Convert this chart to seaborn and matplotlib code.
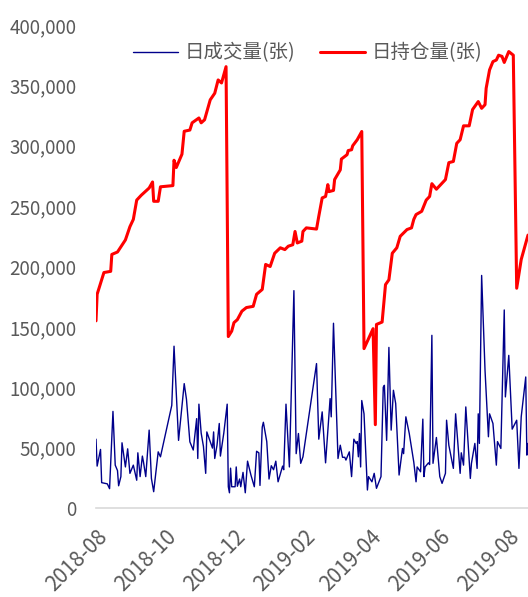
import pandas as pd
import matplotlib
matplotlib.use("Agg")
import matplotlib.pyplot as plt
import matplotlib.dates as mdates
from matplotlib.ticker import FuncFormatter
import seaborn as sns

# daily volume (contracts)
vol_dates = [
    "2018-08-01", "2018-08-02", "2018-08-05", "2018-08-06", "2018-08-11", "2018-08-13", "2018-08-16",
    "2018-08-18", "2018-08-20", "2018-08-21", "2018-08-23", "2018-08-24", "2018-08-27", "2018-08-29",
    "2018-08-31", "2018-09-03", "2018-09-06", "2018-09-07", "2018-09-09", "2018-09-11", "2018-09-12",
    "2018-09-14", "2018-09-17", "2018-09-19", "2018-09-21", "2018-09-25", "2018-09-27", "2018-10-07",
    "2018-10-09", "2018-10-11", "2018-10-13", "2018-10-18", "2018-10-20", "2018-10-23", "2018-10-26",
    "2018-10-29", "2018-10-30", "2018-10-31", "2018-11-02", "2018-11-04", "2018-11-06", "2018-11-07",
    "2018-11-10", "2018-11-12", "2018-11-13", "2018-11-14", "2018-11-16", "2018-11-18", "2018-11-19",
    "2018-11-22", "2018-11-25", "2018-11-26", "2018-11-27", "2018-11-28", "2018-11-29", "2018-12-02",
    "2018-12-03", "2018-12-04", "2018-12-06", "2018-12-07", "2018-12-09", "2018-12-11", "2018-12-13",
    "2018-12-16", "2018-12-19", "2018-12-21", "2018-12-23", "2018-12-24", "2018-12-26", "2018-12-27",
    "2018-12-30", "2019-01-01", "2019-01-03", "2019-01-05", "2019-01-07", "2019-01-09", "2019-01-12",
    "2019-01-13", "2019-01-14", "2019-01-16", "2019-01-19", "2019-01-23", "2019-01-25", "2019-01-27",
    "2019-01-29", "2019-01-31", "2019-02-12", "2019-02-14", "2019-02-17", "2019-02-20", "2019-02-24",
    "2019-02-25", "2019-02-27", "2019-03-03", "2019-03-05", "2019-03-07", "2019-03-09", "2019-03-10",
    "2019-03-13", "2019-03-15", "2019-03-17", "2019-03-19", "2019-03-20", "2019-03-21", "2019-03-22",
    "2019-03-23", "2019-03-24", "2019-03-26", "2019-03-29", "2019-03-30", "2019-04-02", "2019-04-04",
    "2019-04-06", "2019-04-10", "2019-04-12", "2019-04-13", "2019-04-15", "2019-04-17", "2019-04-19",
    "2019-04-21", "2019-04-23", "2019-04-26", "2019-04-29", "2019-04-30", "2019-05-02", "2019-05-05",
    "2019-05-09", "2019-05-11", "2019-05-12", "2019-05-15", "2019-05-17", "2019-05-18", "2019-05-19",
    "2019-05-22", "2019-05-23", "2019-05-25", "2019-05-26", "2019-05-29", "2019-06-01", "2019-06-03",
    "2019-06-06", "2019-06-07", "2019-06-09", "2019-06-13", "2019-06-15", "2019-06-19", "2019-06-20",
    "2019-06-22", "2019-06-24", "2019-06-28", "2019-06-29", "2019-07-02", "2019-07-04", "2019-07-05",
    "2019-07-06", "2019-07-08", "2019-07-11", "2019-07-14", "2019-07-15", "2019-07-18", "2019-07-21",
    "2019-07-22", "2019-07-25", "2019-07-28", "2019-07-29", "2019-08-01", "2019-08-04", "2019-08-08",
    "2019-08-10", "2019-08-12", "2019-08-16", "2019-08-17", "2019-08-18",
]
vol_values = [
    57000, 34700, 48500, 21000, 20000, 16000, 80000,
    35500, 31000, 18400, 26000, 54000, 34000, 49000,
    28700, 35500, 23000, 45700, 26000, 43000, 38000,
    26000, 64500, 24500, 13500, 46500, 42400, 85000,
    134000, 94800, 56000, 103000, 90000, 54800, 48000,
    74000, 41000, 86000, 62000, 51000, 28700, 63000,
    55000, 49600, 63000, 41000, 52000, 70000, 43000,
    62000, 86000, 17600, 12600, 33000, 17600, 17600,
    34000, 18000, 24000, 17600, 29500, 12600, 38800,
    27300, 17600, 47000, 45700, 18700, 67000, 71000,
    55000, 24000, 35000, 31700, 38800, 21700, 31700,
    34700, 31700, 86000, 34000, 180000, 45000, 61700,
    37000, 42400, 119600, 57000, 79600, 37400, 90600,
    75500, 153000, 41000, 52000, 42000, 42000, 39700,
    46500, 26000, 57000, 53500, 55000, 42400, 61700,
    34000, 89000, 78000, 14900, 26000, 21700, 28700,
    16300, 26000, 100000, 101600, 56000, 133000, 64500,
    97500, 86500, 27300, 49300, 45000, 75500, 61700,
    38000, 21700, 34000, 30000, 73600, 26000, 34000,
    37400, 36000, 143000, 37000, 58400, 26000, 20400,
    28700, 72700, 52000, 32800, 78000, 28700, 45700,
    35500, 83700, 24500, 37000, 53500, 32800, 78000,
    53500, 192600, 114000, 59000, 78000, 70000, 35500,
    55000, 49300, 164000, 92000, 126400, 65300, 72700,
    32800, 75500, 108500, 43800, 53500,
]

# daily open interest (contracts)
oi_dates = [
    "2018-08-01", "2018-08-02", "2018-08-05", "2018-08-08", "2018-08-14", "2018-08-15", "2018-08-20", "2018-08-27",
    "2018-08-31", "2018-09-03", "2018-09-06", "2018-09-10", "2018-09-17", "2018-09-20", "2018-09-21",
    "2018-09-25", "2018-09-27", "2018-10-08", "2018-10-09", "2018-10-11", "2018-10-16", "2018-10-18",
    "2018-10-23", "2018-10-25", "2018-10-31", "2018-11-02", "2018-11-05", "2018-11-10", "2018-11-14",
    "2018-11-17", "2018-11-20", "2018-11-24", "2018-11-26", "2018-11-29", "2018-12-01", "2018-12-04",
    "2018-12-08", "2018-12-12", "2018-12-18", "2018-12-21", "2018-12-26", "2018-12-29", "2019-01-02",
    "2019-01-06", "2019-01-11", "2019-01-15", "2019-01-18", "2019-01-22", "2019-01-24", "2019-01-26",
    "2019-01-30", "2019-01-31", "2019-02-03", "2019-02-12", "2019-02-14", "2019-02-17", "2019-02-20",
    "2019-02-22", "2019-02-23", "2019-02-27", "2019-02-28", "2019-03-05", "2019-03-06", "2019-03-11",
    "2019-03-12", "2019-03-15", "2019-03-16", "2019-03-20", "2019-03-24", "2019-03-26", "2019-04-03",
    "2019-04-05", "2019-04-06", "2019-04-11", "2019-04-14", "2019-04-17", "2019-04-20", "2019-04-24",
    "2019-04-27", "2019-05-03", "2019-05-07", "2019-05-09", "2019-05-11", "2019-05-16", "2019-05-20",
    "2019-05-23", "2019-05-25", "2019-05-29", "2019-06-03", "2019-06-06", "2019-06-09", "2019-06-13",
    "2019-06-16", "2019-06-19", "2019-06-22", "2019-06-27", "2019-06-30", "2019-07-05", "2019-07-08",
    "2019-07-11", "2019-07-12", "2019-07-15", "2019-07-18", "2019-07-21", "2019-07-23", "2019-07-26",
    "2019-07-28", "2019-08-01", "2019-08-05", "2019-08-08", "2019-08-12", "2019-08-18",
]
oi_values = [
    155000, 177000, 186000, 195000, 196000, 210000, 212000, 222000,
    233000, 239000, 255000, 259000, 265000, 270000, 254000,
    254000, 266000, 267000, 288000, 282000, 293000, 312000,
    313000, 319000, 323000, 319000, 321500, 338000, 343500,
    354500, 352000, 365500, 142000, 146500, 153500, 156000,
    163000, 166000, 167000, 177000, 181000, 201700, 200000,
    211000, 215500, 214000, 216800, 218000, 229000, 219500,
    221000, 229000, 232000, 231000, 241600, 256800, 258000,
    267800, 262000, 263000, 272000, 280000, 289000, 292600,
    296000, 296700, 300000, 305000, 311800, 132000, 148500,
    69000, 152000, 154000, 185000, 189000, 211000, 215500,
    225000, 230600, 232000, 239000, 243000, 245700, 255000,
    258000, 268600, 264000, 269000, 272000, 286000, 287000,
    302000, 305000, 316500, 316500, 330000, 336600, 331000,
    334000, 347600, 362800, 369700, 371000, 375000, 374000,
    369000, 378000, 375000, 182000, 205800, 226000,
]

vol = pd.DataFrame({"date": pd.to_datetime(vol_dates), "value": vol_values})
oi = pd.DataFrame({"date": pd.to_datetime(oi_dates), "value": oi_values})

sns.set_style("white")
plt.rcParams["font.family"] = ["Noto Sans CJK SC", "DejaVu Sans"]

fig = plt.figure(figsize=(5.28, 5.97), dpi=100)
ax = fig.add_axes([96 / 528, 89 / 597, 432 / 528, 483 / 597])

sns.lineplot(data=vol, x="date", y="value", ax=ax, color="#00008B", linewidth=1.0, label="日成交量(张)")
sns.lineplot(data=oi, x="date", y="value", ax=ax, color="#FF0000", linewidth=2.2, label="日持仓量(张)")

ax.set_xlim(pd.Timestamp("2018-08-01"), pd.Timestamp("2019-08-18"))
ax.set_ylim(0, 400000)
ax.set_yticks(range(0, 400001, 50000))
ax.yaxis.set_major_formatter(FuncFormatter(lambda v, p: f"{v:,.0f}"))
ax.set_xlabel("")
ax.set_ylabel("")

ax.xaxis.set_major_locator(mdates.MonthLocator(bymonth=[2, 4, 6, 8, 10, 12]))
ax.xaxis.set_minor_locator(mdates.MonthLocator())
ax.xaxis.set_major_formatter(mdates.DateFormatter("%Y-%m"))

for s in ["top", "right", "left"]:
    ax.spines[s].set_visible(False)
ax.spines["bottom"].set_color("#d9d9d9")
ax.spines["bottom"].set_linewidth(1.2)

grey = "#595959"
ax.tick_params(axis="y", length=0, pad=14, labelsize=13.5, labelcolor=grey)
ax.tick_params(axis="x", which="major", direction="inout", length=11, width=1.1,
               color="#d9d9d9", labelsize=15, labelcolor=grey, pad=7)
ax.tick_params(axis="x", which="minor", direction="in", length=4.5, width=1.1, color="#d9d9d9")
for lab in ax.get_xticklabels():
    lab.set_rotation(45)
    lab.set_ha("right")
    lab.set_rotation_mode("anchor")

leg = ax.legend(loc="center", bbox_to_anchor=(0.49, 0.942), ncol=2, frameon=False,
                fontsize=14, handlelength=2.3, handletextpad=0.35, columnspacing=1.3)
for t in leg.get_texts():
    t.set_color(grey)

fig.savefig("out.png", dpi=100)
